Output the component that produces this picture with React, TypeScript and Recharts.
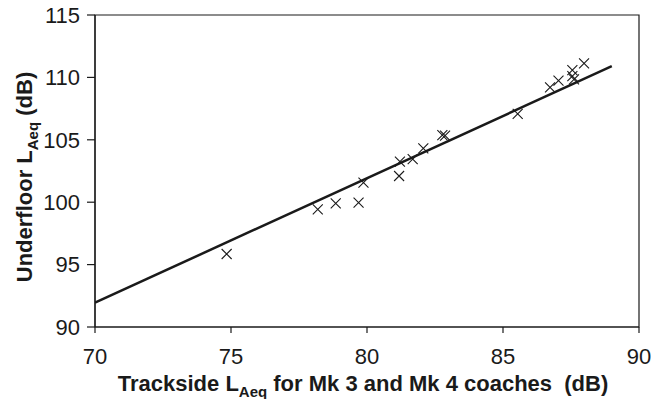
import {
  ScatterChart,
  Scatter,
  XAxis,
  YAxis,
  ReferenceArea,
} from 'recharts';

// measured points: trackside vs underfloor LAeq
const trackside = [
  74.84, 78.19, 78.85, 79.69, 79.87, 81.18, 81.21, 81.68, 82.07, 82.77,
  82.87, 85.54, 86.73, 87.04, 87.55, 87.55, 87.61, 87.98,
];
const underfloor = [
  95.85, 99.43, 99.91, 99.96, 101.56, 102.1, 103.25, 103.46, 104.32, 105.38,
  105.33, 107.07, 109.2, 109.74, 110.59, 110.11, 109.85, 111.13,
];

// regression line end points
const fitX = [70, 89];
const fitY = [91.95, 110.9];

const xTicks = [70, 75, 80, 85, 90];
const yTicks = [90, 95, 100, 105, 110, 115];

const points = trackside.map((x, i) => ({ x, y: underfloor[i] }));
const fitLine = fitX.map((x, i) => ({ x, y: fitY[i] }));

const FONT = '"Liberation Sans", Arial, sans-serif';
const INK = '#1a1a1a';

function Cross(props: any) {
  const { cx, cy } = props;
  if (cx == null || cy == null) return null;
  const r = 5;
  return (
    <path
      d={`M${cx - r},${cy - r}L${cx + r},${cy + r}M${cx - r},${cy + r}L${cx + r},${cy - r}`}
      stroke={INK}
      strokeWidth={1.1}
      fill="none"
    />
  );
}

function XLabel(props: any) {
  const { viewBox } = props;
  const cx = viewBox.x + viewBox.width / 2 - 4;
  return (
    <text
      x={cx}
      y={viewBox.y + 64}
      textAnchor="middle"
      fontFamily={FONT}
      fontWeight="bold"
      fontSize={22}
      fill={INK}
    >
      <tspan>Trackside L</tspan>
      <tspan fontSize={15} dy={6}>Aeq</tspan>
      <tspan dy={-6}>{' for Mk 3 and Mk 4 coaches \u00a0(dB)'}</tspan>
    </text>
  );
}

function YLabel(props: any) {
  const { viewBox } = props;
  const x = 32;
  const y = viewBox.y + viewBox.height / 2 + 6;
  return (
    <text
      x={x}
      y={y}
      transform={`rotate(-90, ${x}, ${y})`}
      textAnchor="middle"
      fontFamily={FONT}
      fontWeight="bold"
      fontSize={22}
      fill={INK}
    >
      <tspan>Underfloor L</tspan>
      <tspan fontSize={15} dy={6}>Aeq</tspan>
      <tspan dy={-6}> (dB)</tspan>
    </text>
  );
}

export default function App() {
  return (
    <div style={{ position: 'fixed', left: 0, top: 0, background: '#fff' }}>
      <ScatterChart
        width={654}
        height={399}
        margin={{ top: 15, right: 15, bottom: 12, left: 0 }}
      >
        <XAxis
          type="number"
          dataKey="x"
          domain={[70, 90]}
          ticks={xTicks}
          allowDataOverflow
          height={60}
          tickSize={6}
          tickMargin={15}
          axisLine={{ stroke: INK, strokeWidth: 1.2 }}
          tickLine={{ stroke: INK, strokeWidth: 1.2 }}
          tick={{ fill: INK, fontSize: 22, fontFamily: FONT }}
          label={<XLabel />}
        />
        <YAxis
          type="number"
          dataKey="y"
          domain={[90, 115]}
          ticks={yTicks}
          allowDataOverflow
          width={95}
          tickSize={8}
          tickMargin={7}
          axisLine={{ stroke: INK, strokeWidth: 1.2 }}
          tickLine={{ stroke: INK, strokeWidth: 1.2 }}
          tick={{ fill: INK, fontSize: 22, fontFamily: FONT }}
          label={<YLabel />}
        />
        <ReferenceArea
          x1={70}
          x2={90}
          y1={90}
          y2={115}
          fill="none"
          stroke={INK}
          strokeWidth={1.2}
          ifOverflow="visible"
        />
        <Scatter
          data={fitLine}
          line={{ stroke: INK, strokeWidth: 2.5 }}
          shape={() => null}
          isAnimationActive={false}
        />
        <Scatter data={points} shape={<Cross />} isAnimationActive={false} />
      </ScatterChart>
    </div>
  );
}
